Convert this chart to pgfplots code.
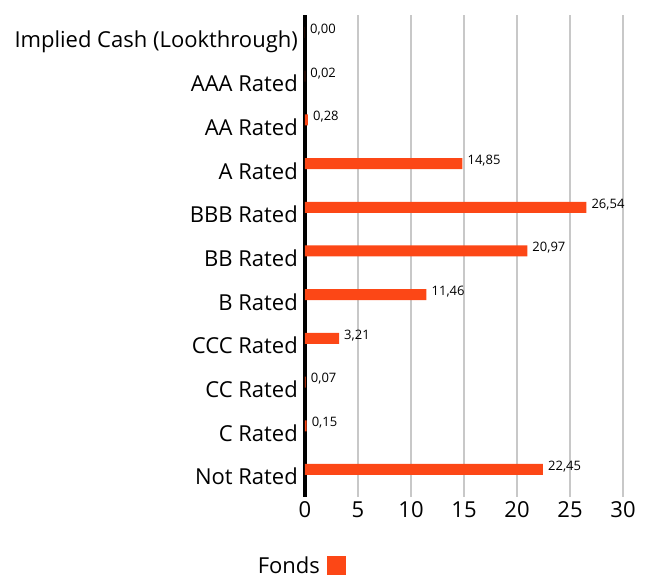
\documentclass[border=0pt]{standalone}
\usepackage{fontspec}
\setmainfont{Open Sans}
\usepackage{pgfplots}
\pgfplotsset{compat=1.18}
\definecolor{barcol}{HTML}{FC4716}
\definecolor{gridcol}{HTML}{C8C8C8}
\begin{document}
\begin{tikzpicture}
\begin{axis}[
 at={(0,0)}, anchor=south west,
 scale only axis, width=318bp, height=482bp,
 xbar, bar width=11bp,
 xmin=0, xmax=30,
 ymin=-0.4, ymax=10.63, y dir=reverse,
 ytick={0,...,10},
 yticklabels={Implied Cash (Lookthrough),AAA Rated,AA Rated,A Rated,BBB Rated,BB Rated,B Rated,CCC Rated,CC Rated,C Rated,Not Rated},
 xtick={5,10,...,30},
 extra x ticks={0},
 extra x tick style={xmajorgrids=true, grid style={black,line width=4bp}},
 xmajorgrids, grid style={gridcol,line width=2bp},
 axis line style={draw=none},
 major tick length=0pt,
 tick style={draw=none},
 /pgf/number format/assume math mode=true,
 tick label style={font=\fontsize{22bp}{26bp}\selectfont, inner sep=0pt},
 yticklabel style={anchor=base east, xshift=-7bp, yshift=-15.5bp},
 xticklabel style={anchor=base, yshift=-20bp},
 point meta=x,
 nodes near coords={\pgfmathprintnumber[fixed,zerofill,precision=2,use comma]{\pgfplotspointmeta}},
 nodes near coords style={font=\fontsize{13bp}{15bp}\selectfont, black, inner sep=0pt, anchor=west, xshift=5bp, yshift=3bp},
 legend plot pos=right,
 legend style={at={(axis description cs:-0.013,-0.143)}, anchor=center, draw=none, fill=none, font=\fontsize{22bp}{26bp}\selectfont},
]
\addplot[fill=barcol, draw=none, legend image code/.code={\path (0bp,0bp); \fill[barcol] (5bp,-9.5bp) rectangle (24bp,9.5bp);}] coordinates {
(0.00,0) (0.02,1) (0.28,2) (14.85,3) (26.54,4) (20.97,5) (11.46,6) (3.21,7) (0.07,8) (0.15,9) (22.45,10)
};
\addlegendentry{Fonds}
\end{axis}
\pgfresetboundingbox
\path[use as bounding box] (-305bp,-82bp) rectangle (344bp,497bp);
\end{tikzpicture}
\end{document}
